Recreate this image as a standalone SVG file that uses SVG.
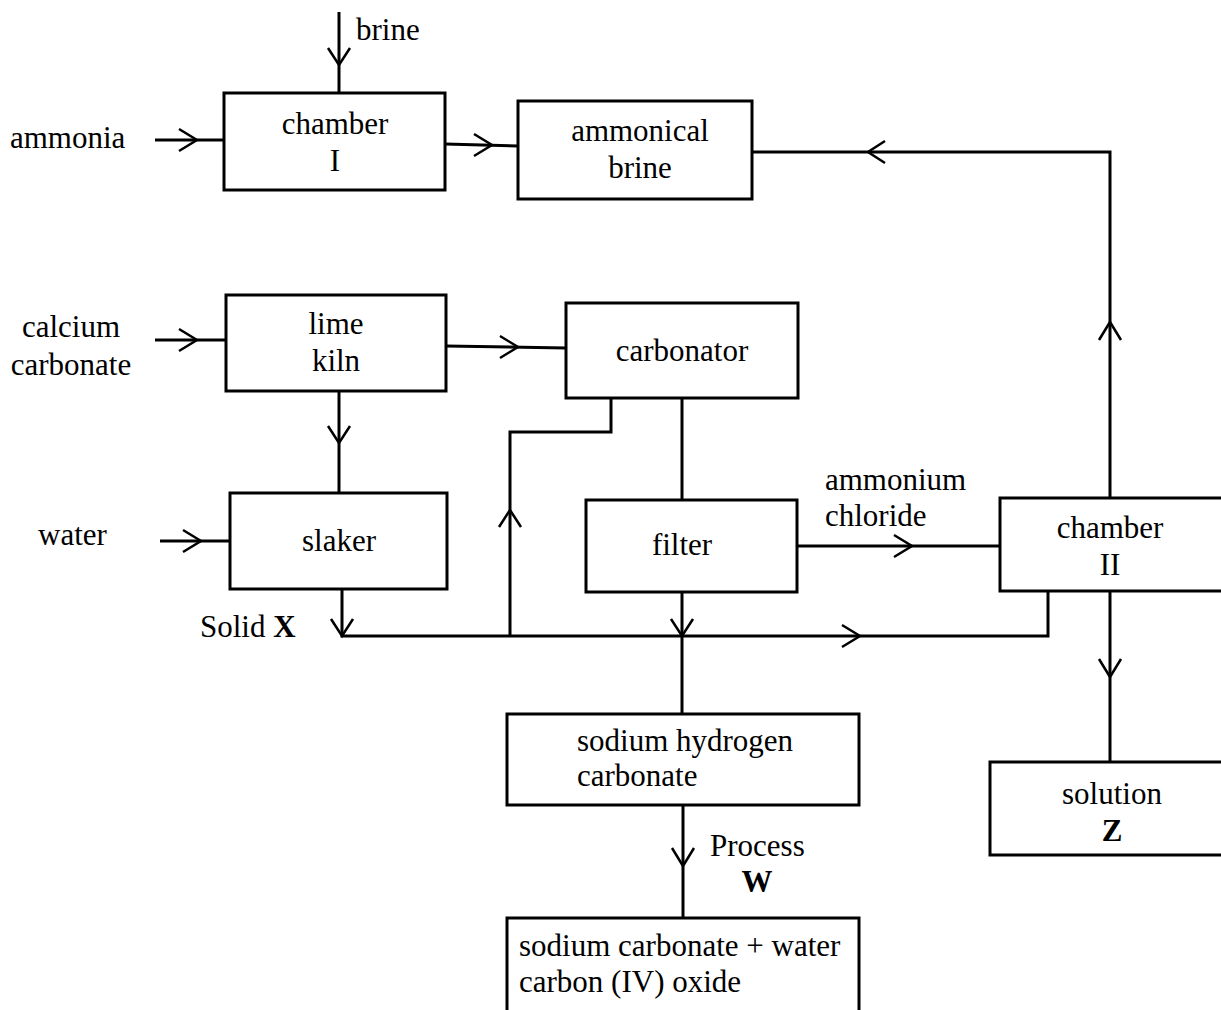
<svg xmlns="http://www.w3.org/2000/svg" width="1221" height="1010" viewBox="0 0 1221 1010">
<style>
.box{fill:#fff;stroke:#000;stroke-width:3}
.ln{fill:none;stroke:#000;stroke-width:3}
.ch{fill:none;stroke:#000;stroke-width:2.5;stroke-linejoin:miter}
text{font-family:"Liberation Serif","Times New Roman",serif;font-size:31px;fill:#000}
.c{text-anchor:middle}
.b{font-weight:bold}
</style>
<rect width="1221" height="1010" fill="#fff"/>
<g id="connectors">
<line class="ln" x1="339" y1="12" x2="339" y2="92"/>
<polyline class="ch" points="328,48 339,65 350,48"/>
<line class="ln" x1="155" y1="140" x2="224" y2="140"/>
<polyline class="ch" points="179,129 197,140 179,151"/>
<line class="ln" x1="445" y1="144" x2="518" y2="146"/>
<polyline class="ch" points="474,134 492,145 474,156"/>
<polyline class="ln" points="752,152 1110,152 1110,498"/>
<polyline class="ch" points="885,141 868,152 885,163"/>
<polyline class="ch" points="1099,340 1110,322 1121,340"/>
<line class="ln" x1="155" y1="340" x2="226" y2="340"/>
<polyline class="ch" points="179,329 197,340 179,351"/>
<line class="ln" x1="446" y1="346" x2="566" y2="348"/>
<polyline class="ch" points="500,336 518,347 500,358"/>
<line class="ln" x1="339" y1="391" x2="339" y2="493"/>
<polyline class="ch" points="328,426 339,443 350,426"/>
<line class="ln" x1="160" y1="541" x2="230" y2="541"/>
<polyline class="ch" points="183,530 201,541 183,552"/>
<polyline class="ln" points="342,589 342,636 1048,636 1048,591"/>
<polyline class="ch" points="331,619 342,636 353,619"/>
<polyline class="ch" points="842,625 860,636 842,647"/>
<polyline class="ln" points="611,398 611,432 510,432 510,636"/>
<polyline class="ch" points="499,527 510,510 521,527"/>
<line class="ln" x1="682" y1="398" x2="682" y2="500"/>
<line class="ln" x1="682" y1="592" x2="682" y2="714"/>
<polyline class="ch" points="671,619 682,636 693,619"/>
<line class="ln" x1="797" y1="546" x2="1000" y2="546"/>
<polyline class="ch" points="894,535 912,546 894,557"/>
<line class="ln" x1="1110" y1="591" x2="1110" y2="762"/>
<polyline class="ch" points="1099,659 1110,677 1121,659"/>
<line class="ln" x1="683" y1="805" x2="683" y2="918"/>
<polyline class="ch" points="672,848 683,866 694,848"/>
</g>
<g id="labels">
<text x="356" y="40">brine</text>
<text x="10" y="148">ammonia</text>
<text x="71" y="337" class="c">calcium</text>
<text x="71" y="375" class="c">carbonate</text>
<text x="38" y="545">water</text>
<text x="200" y="637">Solid <tspan class="b">X</tspan></text>
<text x="825" y="490">ammonium</text>
<text x="825" y="526">chloride</text>
<text x="710" y="856">Process</text>
<text x="757" y="892" class="c b">W</text>
</g>
<g id="chamber1">
<rect class="box" x="224" y="93" width="221" height="97"/>
<text x="335" y="134" class="c">chamber</text>
<text x="335" y="171" class="c">I</text>
</g>
<g id="ammonical-brine">
<rect class="box" x="518" y="101" width="234" height="98"/>
<text x="640" y="141" class="c">ammonical</text>
<text x="640" y="178" class="c">brine</text>
</g>
<g id="lime-kiln">
<rect class="box" x="226" y="295" width="220" height="96"/>
<text x="336" y="334" class="c">lime</text>
<text x="336" y="371" class="c">kiln</text>
</g>
<g id="carbonator">
<rect class="box" x="566" y="303" width="232" height="95"/>
<text x="682" y="361" class="c">carbonator</text>
</g>
<g id="slaker">
<rect class="box" x="230" y="493" width="217" height="96"/>
<text x="339" y="551" class="c">slaker</text>
</g>
<g id="filter">
<rect class="box" x="586" y="500" width="211" height="92"/>
<text x="682" y="555" class="c">filter</text>
</g>
<g id="chamber2">
<rect class="box" x="1000" y="498" width="224" height="93"/>
<text x="1110" y="538" class="c">chamber</text>
<text x="1110" y="575" class="c">II</text>
</g>
<g id="solution-z">
<rect class="box" x="990" y="762" width="234" height="93"/>
<text x="1112" y="804" class="c">solution</text>
<text x="1112" y="841" class="c b">Z</text>
</g>
<g id="sodium-hydrogen-carbonate">
<rect class="box" x="507" y="714" width="352" height="91"/>
<text x="577" y="751">sodium hydrogen</text>
<text x="577" y="786">carbonate</text>
</g>
<g id="sodium-carbonate">
<rect class="box" x="507" y="918" width="352" height="100"/>
<text x="519" y="956">sodium carbonate + water</text>
<text x="519" y="992">carbon (IV) oxide</text>
</g>
</svg>
